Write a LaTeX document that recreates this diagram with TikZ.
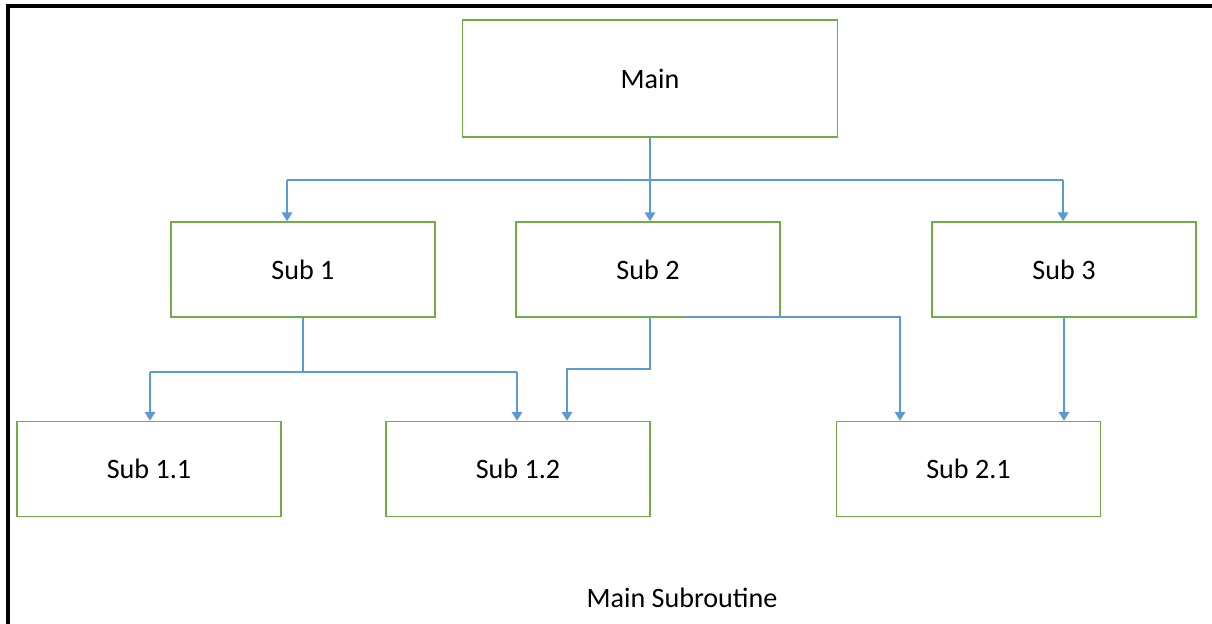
\documentclass[tikz,border=0pt]{standalone}
\usepackage{fontspec}
\setmainfont{Carlito}
\usetikzlibrary{arrows.meta}
\definecolor{boxgreen}{HTML}{70AD47}
\definecolor{linkblue}{HTML}{5B9BD5}
\tikzset{
  box/.style={draw=boxgreen, line width=0.9pt, minimum width=5.28cm, minimum height=1.9cm, font=\fontsize{16}{19}\selectfont},
  link/.style={draw=linkblue, line width=0.8pt},
  arrow/.style={link, -{Triangle[length=5pt, width=6pt]}}
}
\begin{document}
\begin{tikzpicture}[x=0.02cm, y=-0.02cm]
        \useasboundingbox (0,0) rectangle (1212,623);
        \draw[line width=2.2pt] (8,640) -- (8,6) -- (1220,6);
        % boxes
        \node[box, minimum width=7.5cm, minimum height=2.34cm] (main) at (650,78.5) {Main};
        \node[box] (sub1) at (303,269.5) {Sub 1};
        \node[box] (sub2) at (648,269.5) {Sub 2};
        \node[box] (sub3) at (1064,269.5) {Sub 3};
        \node[box] (sub11) at (149,469) {Sub 1.1};
        \node[box] (sub12) at (518,469) {Sub 1.2};
        \node[box] (sub21) at (968.5,469) {Sub 2.1};
        \node[font=\fontsize{16}{19}\selectfont] (caption) at (682,598) {Main Subroutine};
        % joints
        \coordinate (bl) at (287,180);
        \coordinate (br) at (1063,180);
        \coordinate (cl) at (150,372);
        \coordinate (cr) at (517,372);
        \coordinate (j12) at (567,369);
        \coordinate (s2) at (685,317);
        \coordinate (t21) at (900,317);
        % main to level 1
        \draw[link] (main.south) -- (main.south |- bl);
        \draw[link] (bl) -- (br);
        \draw[arrow] (bl) -- (bl |- sub1.north);
        \draw[arrow] (main.south |- bl) -- (main.south |- sub2.north);
        \draw[arrow] (br) -- (br |- sub3.north);
        % level 1 to level 2
        \draw[link] (sub1.south) -- (sub1.south |- cl);
        \draw[link] (cl) -- (cr);
        \draw[arrow] (cl) -- (cl |- sub11.north);
        \draw[arrow] (cr) -- (cr |- sub12.north);
        \draw[arrow] (sub2.south -| 650,0) |- (j12) -- (j12 |- sub12.north);
        \draw[arrow] (s2) -- (t21) -- (t21 |- sub21.north);
        \draw[arrow] (sub3.south) -- (sub3.south |- sub21.north);
\end{tikzpicture}
\end{document}
